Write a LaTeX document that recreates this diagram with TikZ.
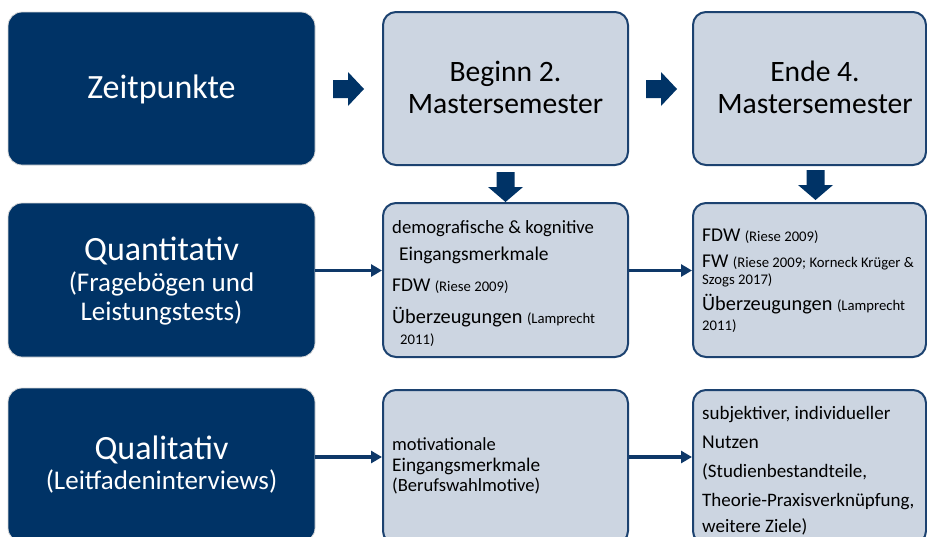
\documentclass[tikz,border=0pt]{standalone}
\usepackage{fontspec}
\setmainfont{Carlito}
\usetikzlibrary{arrows.meta}
\definecolor{navy}{RGB}{0,51,102}
\definecolor{lightfill}{RGB}{204,213,225}
\definecolor{bordernavy}{RGB}{28,66,112}
\definecolor{connnavy}{RGB}{14,56,104}
\newcommand{\fs}[1]{\fontsize{#1}{#1}\selectfont}
\tikzset{
  darkbox/.style={rectangle, rounded corners=14pt, fill=navy, draw=gray!30, line width=0.8pt, inner sep=0pt},
  lightbox/.style={rectangle, rounded corners=13pt, fill=lightfill, draw=bordernavy, line width=2pt, inner sep=0pt},
  whitetxt/.style={inner sep=0pt, anchor=base, text=white},
  headtxt/.style={inner sep=0pt, anchor=base, text=black},
  boxtxt/.style={inner sep=0pt, anchor=base west, text=black},
  conn/.style={draw=connnavy, line width=3.6pt, -{Triangle[length=11pt,width=12pt]}},
  blockarrow/.style={fill=navy}
}
\begin{document}
\begin{tikzpicture}[x=1pt,y=-1pt]
\useasboundingbox (0,0) rectangle (927,536);
\clip (0,0) rectangle (927,536);
\fill[white] (0,0) rectangle (927,536);

% left column
\node[darkbox, minimum width=307pt, minimum height=153pt] (zeit) at (161.5,88.5) {};
\node[darkbox, minimum width=307pt, minimum height=154pt] (quant) at (161.5,280) {};
\node[darkbox, minimum width=307pt, minimum height=154pt] (qual) at (161.5,465) {};

% middle column
\node[lightbox, minimum width=245pt, minimum height=153pt] (beg) at (505.5,88.5) {};
\node[lightbox, minimum width=245pt, minimum height=154pt] (m2) at (505.5,280) {};
\node[lightbox, minimum width=245pt, minimum height=154pt] (m3) at (505.5,467) {};

% right column
\node[lightbox, minimum width=233pt, minimum height=153pt] (end) at (809.5,88.5) {};
\node[lightbox, minimum width=233pt, minimum height=154pt] (r2) at (809.5,280) {};
\node[lightbox, minimum width=233pt, minimum height=154pt] (r3) at (809.5,467) {};

% block arrows
\fill[blockarrow] (333,80) -- (348,80) -- (348,72) -- (364,89) -- (348,106) -- (348,98) -- (333,98) -- cycle;
\fill[blockarrow] (646,80) -- (661,80) -- (661,72) -- (677,89) -- (661,106) -- (661,98) -- (646,98) -- cycle;
\fill[blockarrow] (496.5,172) -- (514.5,172) -- (514.5,187) -- (523,187) -- (505.5,202) -- (488,187) -- (496.5,187) -- cycle;
\fill[blockarrow] (806.5,170) -- (824.5,170) -- (824.5,185) -- (833,185) -- (815.5,200) -- (798,185) -- (806.5,185) -- cycle;

% connectors
\draw[conn] (quant.east |- 0,270.5) -- (m2.west |- 0,270.5);
\draw[conn] (m2.east |- 0,270.5) -- (r2.west |- 0,270.5);
\draw[conn] (qual.east |- 0,457) -- (m3.west |- 0,457);
\draw[conn] (m3.east |- 0,457) -- (r3.west |- 0,457);

% left texts
\node[whitetxt, font=\fs{34}] (tzeit) at (161.5,98) {Zeitpunkte};
\node[whitetxt, font=\fs{34}] (tq1) at (161.5,260) {Quantitativ};
\node[whitetxt, font=\fs{27}] (tq2) at (161.5,291) {(Fragebögen und};
\node[whitetxt, font=\fs{27}] (tq3) at (161.5,320) {Leistungstests)};
\node[whitetxt, font=\fs{34}] (tl1) at (161.5,459) {Qualitativ};
\node[whitetxt, font=\fs{27}] (tl2) at (161.5,489) {(Leitfadeninterviews)};

% header texts
\node[headtxt, font=\fs{29.6}] (tb1) at (505.5,81) {Beginn 2.};
\node[headtxt, font=\fs{29.6}] (tb2) at (505.5,113) {Mastersemester};
\node[headtxt, font=\fs{29.6}] (te1) at (815,81) {Ende 4.};
\node[headtxt, font=\fs{29.6}] (te2) at (815,113) {Mastersemester};

% middle row 2
\node[boxtxt, font=\fs{18.7}] (m2a) at (392,233) {demografische \& kognitive};
\node[boxtxt, font=\fs{19.5}] (m2b) at (399,260) {Eingangsmerkmale};
\node[boxtxt] (m2c) at (392,291) {\fs{19.5}FDW \fs{14.7}(Riese 2009)};
\node[boxtxt] (m2d) at (392,323) {\fs{20.3}Überzeugungen \fs{14.7}(Lamprecht};
\node[boxtxt, font=\fs{14.7}] (m2e) at (400,344) {2011)};

% right row 2
\node[boxtxt] (r2a) at (702,241) {\fs{19.5}FDW \fs{14.7}(Riese 2009)};
\node[boxtxt] (r2b) at (702,267) {\fs{19.5}FW \fs{14.7}(Riese 2009; Korneck Krüger \&};
\node[boxtxt, font=\fs{14.7}] (r2c) at (702,284) {Szogs 2017)};
\node[boxtxt] (r2d) at (702,310) {\fs{20.3}Überzeugungen \fs{14.7}(Lamprecht};
\node[boxtxt, font=\fs{14.7}] (r2e) at (702,330) {2011)};

% middle row 3
\node[boxtxt, font=\fs{18.5}] (m3a) at (392,450) {motivationale};
\node[boxtxt, font=\fs{19.3}] (m3b) at (392,471) {Eingangsmerkmale};
\node[boxtxt, font=\fs{18.6}] (m3c) at (392,491) {(Berufswahlmotive)};

% right row 3
\node[boxtxt, font=\fs{19}] (r3a) at (702,419) {subjektiver, individueller};
\node[boxtxt, font=\fs{19.5}] (r3b) at (702,448) {Nutzen};
\node[boxtxt, font=\fs{19}] (r3c) at (702,477) {(Studienbestandteile,};
\node[boxtxt, font=\fs{19}] (r3d) at (702,506) {Theorie-Praxisverknüpfung,};
\node[boxtxt, font=\fs{19}] (r3e) at (702,532) {weitere Ziele)};
\end{tikzpicture}
\end{document}
